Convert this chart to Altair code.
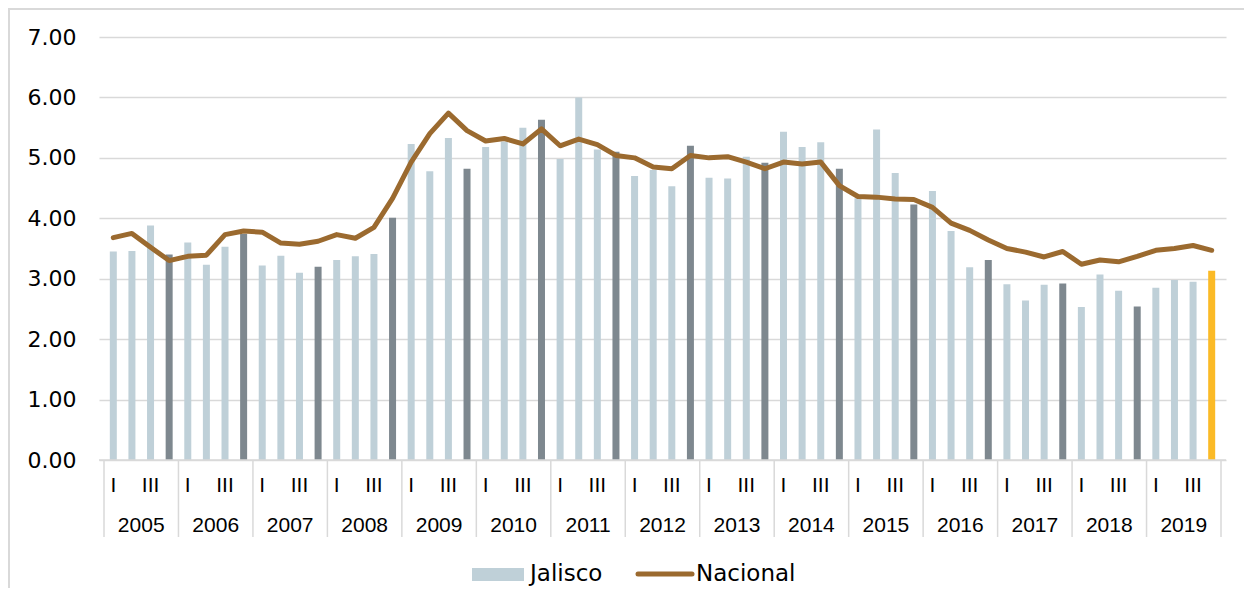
import altair as alt
import pandas as pd

years = list(range(2005, 2020))
quarters = ["I", "II", "III", "IV"]

jalisco = [
    3.45, 3.46, 3.88, 3.40,
    3.60, 3.23, 3.53, 3.74,
    3.22, 3.38, 3.10, 3.20,
    3.31, 3.37, 3.41, 4.01,
    5.23, 4.78, 5.33, 4.82,
    5.18, 5.27, 5.50, 5.63,
    4.98, 6.00, 5.14, 5.10,
    4.70, 4.80, 4.53, 5.20,
    4.67, 4.66, 5.02, 4.92,
    5.43, 5.18, 5.26, 4.82,
    4.33, 5.47, 4.75, 4.23,
    4.45, 3.79, 3.19, 3.31,
    2.91, 2.64, 2.90, 2.92,
    2.53, 3.07, 2.80, 2.54,
    2.85, 2.98, 2.95, 3.13,
]

nacional = [
    3.68, 3.75, 3.52, 3.30,
    3.37, 3.39, 3.73, 3.79,
    3.77, 3.59, 3.57, 3.62,
    3.73, 3.67, 3.85, 4.33,
    4.93, 5.40, 5.74, 5.45,
    5.28, 5.32, 5.23, 5.48,
    5.20, 5.31, 5.22, 5.04,
    5.00, 4.85, 4.82, 5.04,
    5.00, 5.02, 4.93, 4.82,
    4.93, 4.90, 4.93, 4.54,
    4.36, 4.35, 4.32, 4.31,
    4.18, 3.92, 3.80, 3.64,
    3.50, 3.44, 3.36, 3.45,
    3.24, 3.31, 3.28, 3.37,
    3.47, 3.50, 3.55, 3.47,
]

y_ticks = [0, 1, 2, 3, 4, 5, 6, 7]
shown_quarters = ["I", "III"]
legend_labels = ["Jalisco", "Nacional"]

LIGHT = "#bfd0d8"
DARK = "#7e888f"
ORANGE = "#fbba26"
BROWN = "#9b6a2f"
GRID = "#d9d9d9"

W, H = 1127, 423
PL, PT = 91, 29

rows = []
n = len(jalisco)
for i in range(n):
    y = years[i // 4]
    q = quarters[i % 4]
    if i == n - 1:
        kind = "last"
    elif i % 4 == 3:
        kind = "q4"
    else:
        kind = "q"
    rows.append({"idx": i, "year": y, "quarter": q, "jalisco": jalisco[i],
                 "nacional": nacional[i], "kind": kind})
df = pd.DataFrame(rows)

qlab = df[df["quarter"].isin(shown_quarters)]
ylab = pd.DataFrame({"year": [str(y) for y in years],
                     "idx": [4 * k + 1.5 for k in range(len(years))]})
seps = pd.DataFrame({"idx": [4 * k - 0.5 for k in range(len(years) + 1)]})
one = pd.DataFrame({"a": [0]})

xscale = alt.Scale(domain=[-0.5, n - 0.5], nice=False, zero=False)
yscale = alt.Scale(domain=[0, 7], nice=False)

bars = alt.Chart(df).mark_bar(size=7).encode(
    x=alt.X("idx:Q", scale=xscale, axis=None),
    y=alt.Y("jalisco:Q", scale=yscale, axis=alt.Axis(
        values=y_ticks, format=".2f", labelFont="DejaVu Sans", labelFontSize=22,
        labelColor="#000000", labelPadding=23, ticks=False, domain=False,
        gridColor=GRID, gridWidth=1.5, title=None)),
    color=alt.Color("kind:N", scale=alt.Scale(domain=["q", "q4", "last"],
                                              range=[LIGHT, DARK, ORANGE]), legend=None),
)

line = alt.Chart(df).mark_line(color=BROWN, strokeWidth=5, strokeJoin="round",
                               strokeCap="round").encode(
    x=alt.X("idx:Q", scale=xscale),
    y=alt.Y("nacional:Q", scale=yscale),
)

sep_rules = alt.Chart(seps).mark_rule(color=GRID, strokeWidth=1.5).encode(
    x=alt.X("idx:Q", scale=xscale),
    y=alt.value(H),
    y2=alt.value(H + 77),
)

base_rule = alt.Chart(one).mark_rule(color=GRID, strokeWidth=1.5).encode(
    x=alt.value(0), x2=alt.value(W), y=alt.value(H))

q_text = alt.Chart(qlab).mark_text(font="Liberation Sans", fontSize=21, color="#000000",
                                   baseline="alphabetic", align="center").encode(
    x=alt.X("idx:Q", scale=xscale),
    y=alt.value(H + 32),
    text="quarter:N",
)

y_text = alt.Chart(ylab).mark_text(font="Liberation Sans", fontSize=21, color="#000000",
                                   baseline="alphabetic", align="center").encode(
    x=alt.X("idx:Q", scale=xscale),
    y=alt.value(H + 72),
    text="year:N",
)

frame = alt.Chart(one).mark_rect(fill="transparent", stroke=GRID, strokeWidth=2,
                                 clip=False).encode(
    x=alt.value(-PL + 1), x2=alt.value(W + 200),
    y=alt.value(-PT + 1), y2=alt.value(H + 300),
)

leg_rect = alt.Chart(one).mark_rect(color=LIGHT).encode(
    x=alt.value(373), x2=alt.value(425), y=alt.value(531), y2=alt.value(544))
leg_text1 = alt.Chart(one).mark_text(font="DejaVu Sans", fontSize=23, color="#000000",
                                     align="left", baseline="alphabetic").encode(
    x=alt.value(431), y=alt.value(544), text=alt.value(legend_labels[0]))
leg_line = alt.Chart(one).mark_rule(color=BROWN, strokeWidth=5, strokeCap="round").encode(
    x=alt.value(539), x2=alt.value(593), y=alt.value(537))
leg_text2 = alt.Chart(one).mark_text(font="DejaVu Sans", fontSize=23, color="#000000",
                                     align="left", baseline="alphabetic").encode(
    x=alt.value(597), y=alt.value(544), text=alt.value(legend_labels[1]))

chart = alt.layer(
    frame, bars, base_rule, line, sep_rules, q_text, y_text,
    leg_rect, leg_text1, leg_line, leg_text2,
).properties(
    width=W, height=H,
    autosize=alt.AutoSizeParams(type="none"),
    padding={"left": PL, "top": PT, "right": 18, "bottom": 128},
    background="white",
).configure_view(stroke=None)

chart.save("out.html", embed_options={"renderer": "svg", "actions": False})
